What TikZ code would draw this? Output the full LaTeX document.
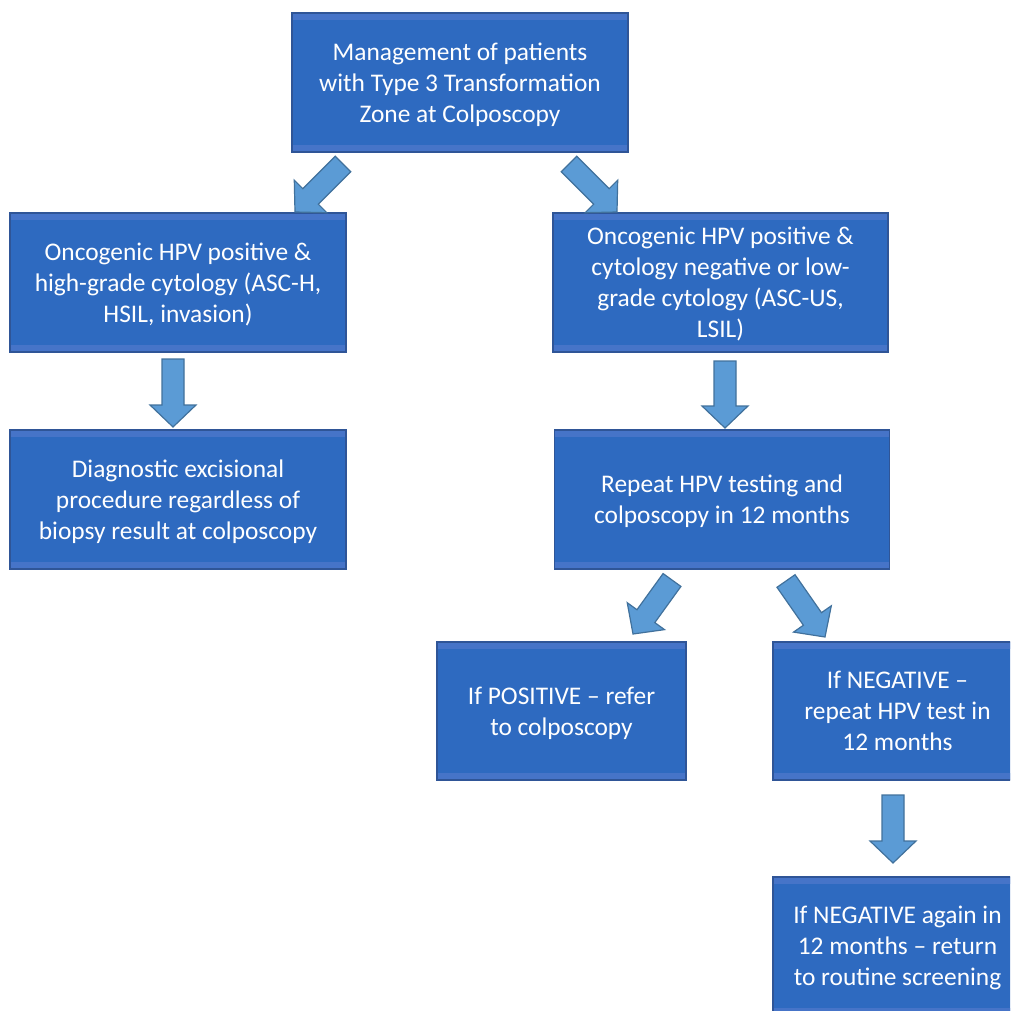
\documentclass[tikz,border=0pt]{standalone}
\usepackage{fontspec}
\setmainfont{Carlito}
\usetikzlibrary{calc}
\definecolor{boxfill}{HTML}{2E6AC0}
\definecolor{boxband}{HTML}{4674C8}
\definecolor{boxline}{HTML}{2F5597}
\definecolor{arrowfill}{HTML}{5B9BD5}
\definecolor{arrowline}{HTML}{41719C}
\tikzstyle{bigbox}=[rectangle,draw=boxline,line width=1.3pt,fill=boxfill,text=white,align=center,inner sep=0pt,minimum width=336pt,minimum height=139pt,font=\fontsize{25.4}{31}\selectfont,text depth=0pt,
  path picture={\fill[boxband] ([yshift=-1pt]path picture bounding box.north west) rectangle ([yshift=-7pt]path picture bounding box.north east);
                \fill[boxband] ([yshift=7pt]path picture bounding box.south west) rectangle ([yshift=1pt]path picture bounding box.south east);}]
\tikzstyle{smallbox}=[bigbox,minimum width=249pt,minimum height=138pt]
\tikzstyle{fatarrow}=[draw=arrowline,line width=1.2pt,fill=arrowfill,line join=miter]
% block arrow from tail coordinate to tip coordinate
\newcommand{\blockarrow}[2]{%
  \coordinate (hb) at ($(#2)!22pt!(#1)$);
  \path[fatarrow] ($(#1)!11pt!90:(#2)$) -- ($(hb)!11pt!90:(#2)$) -- ($(hb)!23pt!90:(#2)$) -- (#2)
     -- ($(hb)!23pt!-90:(#2)$) -- ($(hb)!11pt!-90:(#2)$) -- ($(#1)!11pt!-90:(#2)$) -- cycle;
}

\begin{document}
\begin{tikzpicture}[x=1pt,y=-1pt]
  \useasboundingbox (0,0) rectangle (1010,1011);
  \clip (0,0) rectangle (1010,1011);

%layer 1
  \node[bigbox] (top) at (460,82.5) {Management of patients\\with Type 3 Transformation\\Zone at Colposcopy};

%layer 2
  \node[bigbox] (hsil) at (178,282.5) {Oncogenic HPV positive \&\\high-grade cytology (ASC-H,\\HSIL, invasion)};
  \node[bigbox,minimum width=335pt] (lsil) at (720.5,282.5) {Oncogenic HPV positive \&\\cytology negative or low-\\grade cytology (ASC-US,\\LSIL)};

%layer 3
  \node[bigbox] (excise) at (178,499.5) {Diagnostic excisional\\procedure regardless of\\biopsy result at colposcopy};
  \node[bigbox,minimum width=335pt] (repeat) at (722,499.5) {Repeat HPV testing and\\colposcopy in 12 months};

%layer 4
  \node[smallbox] (pos) at (561.5,711) {If POSITIVE – refer\\to colposcopy};
  \node[smallbox] (neg) at (897.5,711) {If NEGATIVE –\\repeat HPV test in\\12 months};

%layer 5
  \node[smallbox] (routine) at (897.5,946) {If NEGATIVE again in\\12 months – return\\to routine screening};

  % Arrow ends
  \foreach \n/\tail/\tip in {1/{343,164}/{295,212}, 2/{569,164}/{617,212}, 3/{173,359}/{173,427}, 4/{725,361}/{725,428},
                             5/{672,580}/{633,634}, 6/{786,581}/{825,637}, 7/{893,795}/{893,863}}
  {
    \coordinate (tail\n) at (\tail);
    \coordinate (tip\n) at (\tip);
  }

  % Connect boxes with block arrows
  \foreach \n in {1,...,7}
    \blockarrow{tail\n}{tip\n};

\end{tikzpicture}
\end{document}
